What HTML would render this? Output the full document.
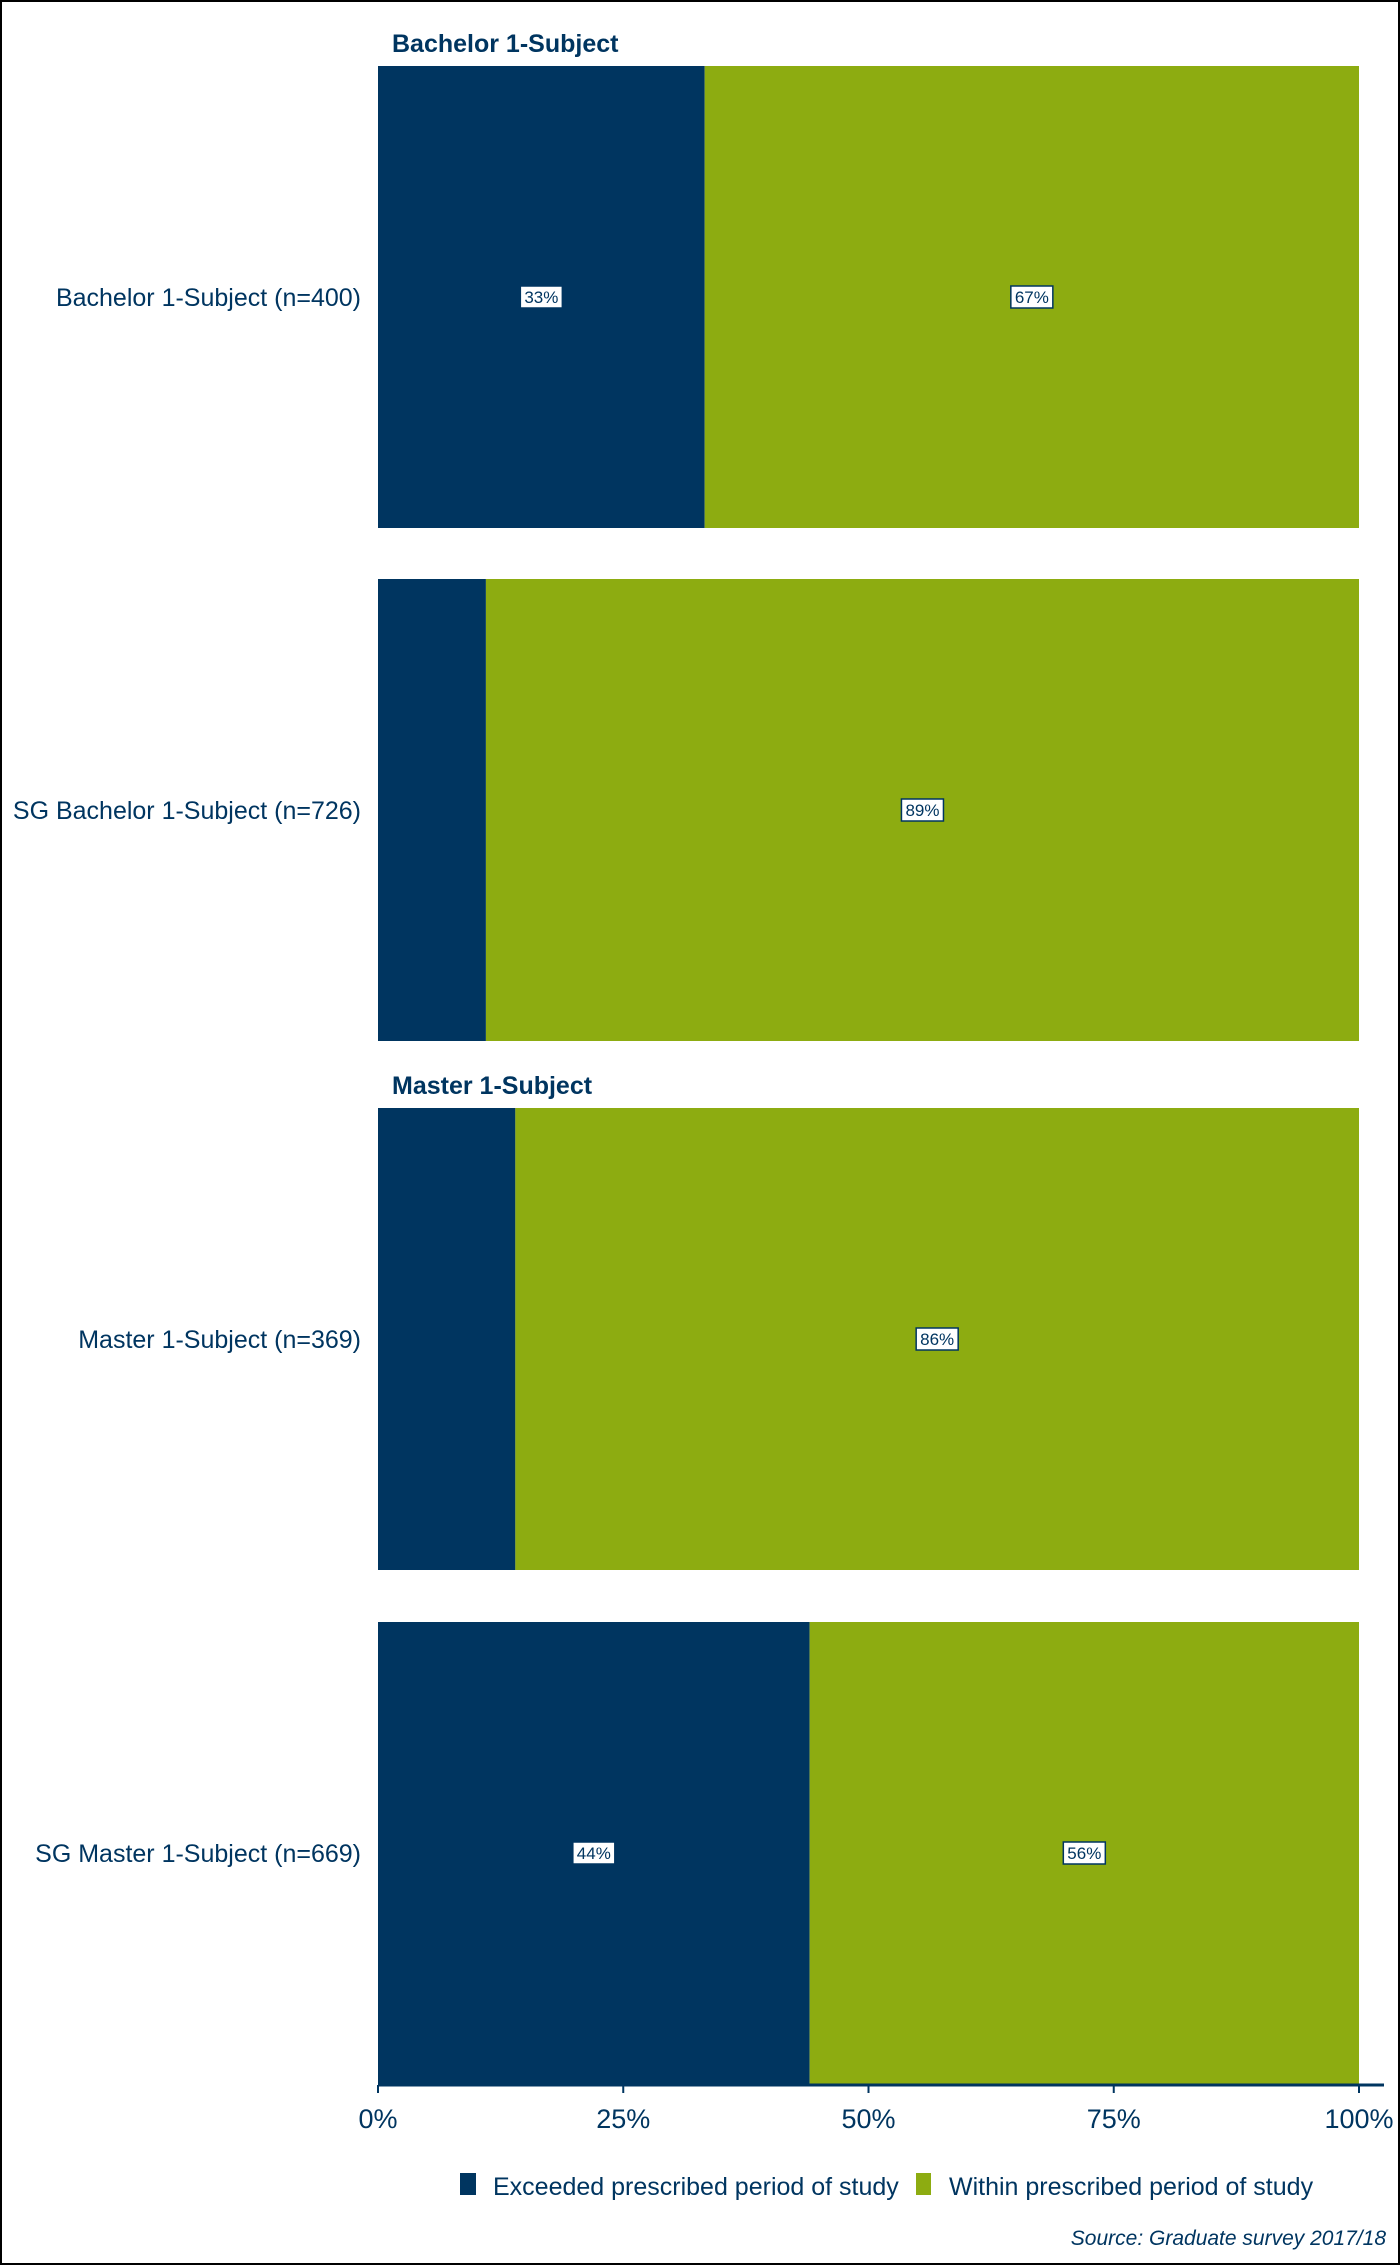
<!DOCTYPE html>
<html><head><meta charset="utf-8"><style>
html,body{margin:0;padding:0;background:#fff}
svg{display:block}
text{font-family:"Liberation Sans",sans-serif;fill:#003560}
</style></head><body>
<svg id="chart" width="1400" height="2265" xmlns="http://www.w3.org/2000/svg">
<rect x="1" y="1" width="1398" height="2263" fill="#fff" stroke="#000" stroke-width="2"/>
<g id="bars"></g>
<g id="axis"></g>
<g>
<rect x="460" y="2173" width="16" height="22" fill="#003560"/>
<text x="493" y="2195" font-size="25">Exceeded prescribed period of study</text>
<rect x="916" y="2173" width="15" height="22" fill="#8dac11"/>
<text x="949" y="2195" font-size="25">Within prescribed period of study</text>
</g>
<text x="1386" y="2245" font-size="21" font-style="italic" text-anchor="end">Source: Graduate survey 2017/18</text>
</svg>
<script>
const categories = ["Bachelor 1-Subject (n=400)","SG Bachelor 1-Subject (n=726)","Master 1-Subject (n=369)","SG Master 1-Subject (n=669)"];
const exceeded = [33.3,11,14,44];
const within = [66.7,89,86,56];
const groupTitles = ["Bachelor 1-Subject","","Master 1-Subject",""];
const tickValues = [0,25,50,75,100];
const tickLabels = ["0%","25%","50%","75%","100%"];

const NS="http://www.w3.org/2000/svg";
const x0=378,x1=1359;
const xs=v=>x0+(x1-x0)*v/100;
const bandTop=[66,579,1108,1622], bandH=462;
function mk(tag,attrs,parent,txt){const e=document.createElementNS(NS,tag);for(const k in attrs)e.setAttribute(k,attrs[k]);if(txt!==undefined)e.textContent=txt;parent.appendChild(e);return e;}
const bars=document.getElementById('bars');
function label(cx,cy,v,i,s){
  const w=42,h=22;
  const r=mk('rect',{x:cx-w/2,y:cy-h/2,width:w,height:h,fill:'#fff',stroke:'#003560','stroke-width':1.5},bars);
  
  
  const t=mk('text',{x:cx,y:cy+6,'font-size':17,'text-anchor':'middle'},bars,Math.round(v)+'%');
  
  
}
categories.forEach((c,i)=>{
  const y=bandTop[i], cy=y+bandH/2;
  const a=mk('rect',{x:xs(0),y:y,width:xs(exceeded[i])-xs(0),height:bandH,fill:'#003560'},bars);
  
  
  const b=mk('rect',{x:xs(exceeded[i]),y:y,width:xs(exceeded[i]+within[i])-xs(exceeded[i]),height:bandH,fill:'#8dac11'},bars);
  
  
  if(exceeded[i]>=20) label((xs(0)+xs(exceeded[i]))/2,cy,exceeded[i],i,'exceeded');
  if(within[i]>=20) label((xs(exceeded[i])+xs(exceeded[i]+within[i]))/2,cy,within[i],i,'within');
  const t=mk('text',{x:361,y:cy+9,'font-size':25,'text-anchor':'end'},bars,c);
  
  
  if(groupTitles[i]){
    const g=mk('text',{x:392,y:y-14,'font-size':25,'font-weight':'bold'},bars,groupTitles[i]);
    
    
  }
});
const ax=document.getElementById('axis');
const ln=mk('line',{x1:x0,y1:2085,x2:1384,y2:2085,stroke:'#003560','stroke-width':3},ax);


tickValues.forEach((v,i)=>{
  const tk=mk('line',{x1:xs(v),y1:2085,x2:xs(v),y2:2093,stroke:'#003560','stroke-width':2},ax);
  
  
  const t=mk('text',{x:xs(v),y:2128,'font-size':27,'text-anchor':'middle'},ax,tickLabels[i]);
  
  
});
</script>
</body></html>
